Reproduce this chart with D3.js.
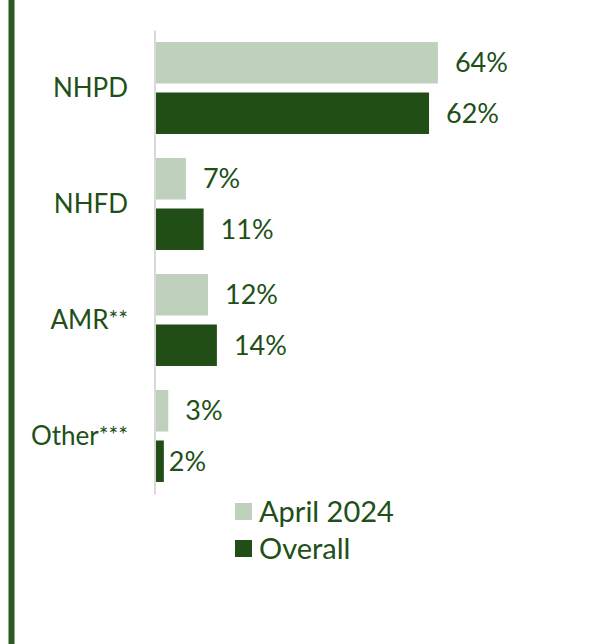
<!DOCTYPE html>
<html>
<head>
<meta charset="utf-8">
<script src="https://cdn.jsdelivr.net/npm/d3@7/dist/d3.min.js"></script>
<style>
  html, body { margin: 0; padding: 0; background: #ffffff; }
  svg { display: block; font-family: Lato, "Open Sans", sans-serif; }
</style>
</head>
<body>
<svg id="chart" width="613" height="644"></svg>
<script>
const categories = ["NHPD", "NHFD", "AMR", "Other"];
const categorySuffix = ["", "", "**", "***"];
const seriesNames = ["April 2024", "Overall"];
const april2024 = [64, 7, 12, 3];
const overall = [62, 11, 14, 2];

const colors = { "April 2024": "#bfd0bc", "Overall": "#204e16" };
const textColor = "#214f17";

const svg = d3.select("#chart");

// left border line
svg.append("rect").attr("x", 8.5).attr("y", 0).attr("width", 6).attr("height", 644)
  .attr("fill", "#2a5a20");

const x = d3.scaleLinear().domain([0, 70]).range([155, 155 + 70 * 4.42]);
const y = d3.scaleBand().domain(categories).range([30, 494]).padding(0);
const yInner = d3.scaleBand().domain(seriesNames).range([0, y.bandwidth()])
  .paddingInner(0.178).paddingOuter(0.238);

const data = categories.map((c, i) => ({
  cat: c, suffix: categorySuffix[i],
  values: [
    { series: "April 2024", value: april2024[i] },
    { series: "Overall", value: overall[i] }
  ]
}));

const groups = svg.selectAll("g.grp").data(data).join("g")
  .attr("class", "grp")
  .attr("transform", d => `translate(0,${y(d.cat)})`);

groups.selectAll("rect").data(d => d.values).join("rect")
  .attr("x", x(0))
  .attr("y", d => yInner(d.series))
  .attr("width", d => x(d.value) - x(0))
  .attr("height", yInner.bandwidth())
  .attr("fill", d => colors[d.series]);

groups.selectAll("text.val").data(d => d.values).join("text")
  .attr("class", "val")
  .attr("x", d => x(d.value) + (d.value < 3 ? 5 : 17))
  .attr("y", d => yInner(d.series) + yInner.bandwidth() / 2)
  .attr("dy", "0.36em")
  .attr("fill", textColor)
  .attr("font-size", 27)
  .text(d => d.value + "%");

// category labels
const catText = groups.append("text")
  .attr("x", 128)
  .attr("y", y.bandwidth() / 2)
  .attr("dy", "0.36em")
  .attr("text-anchor", "end")
  .attr("fill", textColor)
  .attr("font-size", 26);
catText.append("tspan").text(d => d.cat);
catText.append("tspan")
  .attr("font-size", 23)
  .attr("dy", "-0.12em")
  .text(d => d.suffix);

// axis line
const yAxis = d3.axisLeft(y).tickSize(0).tickFormat("");
const axisG = svg.append("g").attr("transform", `translate(${x(0) - 0.5},0)`).call(yAxis);
axisG.select(".domain").attr("stroke", "#d9d9d9").attr("stroke-width", 2);

// legend
const legend = svg.append("g").attr("transform", "translate(235,503)");
const li = legend.selectAll("g").data(seriesNames).join("g")
  .attr("transform", (d, i) => `translate(0,${i * 37})`);
li.append("rect").attr("width", 17).attr("height", 17).attr("fill", d => colors[d]);
li.append("text").attr("x", 24).attr("y", 9).attr("dy", "0.36em")
  .attr("fill", textColor).attr("font-size", 29).text(d => d);
</script>
</body>
</html>
